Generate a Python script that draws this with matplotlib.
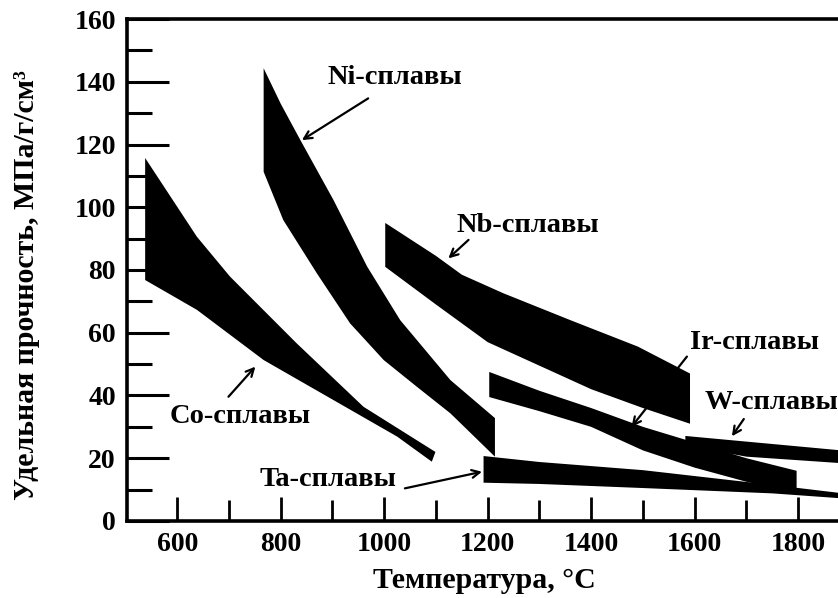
import numpy as np
import matplotlib
matplotlib.use("Agg")
import matplotlib.pyplot as plt

plt.rcParams['font.family'] = ['Liberation Serif', 'DejaVu Serif']
plt.rcParams['font.weight'] = 'bold'

# --- data: band outlines (temperature, specific strength) ---
co_top_x = [538, 638, 702, 831, 960, 1099]
co_top_y = [115.7, 90.6, 77.9, 56.6, 36.4, 22.0]
co_bot_x = [538, 638, 767, 896, 1025, 1092]
co_bot_y = [76.8, 67.3, 51.3, 39.1, 26.9, 18.9]

ni_top_x = [767, 800, 838, 902, 967, 1031, 1128, 1214]
ni_top_y = [144.3, 133.0, 121.4, 102.3, 81.1, 64.0, 44.9, 32.8]
ni_bot_x = [767, 785, 805, 870, 934, 999, 1063, 1128, 1214]
ni_bot_y = [111.3, 104.0, 95.9, 78.9, 63.0, 51.3, 42.8, 34.3, 20.5]

nb_top_x = [1002, 1100, 1150, 1230, 1360, 1490, 1591]
nb_top_y = [95.0, 84.5, 78.5, 72.6, 64.0, 55.6, 47.0]
nb_bot_x = [1002, 1100, 1200, 1300, 1400, 1500, 1591]
nb_bot_y = [81.0, 69.0, 57.0, 49.5, 42.0, 36.0, 31.0]

ir_top_x = [1203, 1300, 1400, 1500, 1600, 1700, 1797]
ir_top_y = [47.5, 41.5, 36.0, 30.0, 25.0, 20.0, 16.0]
ir_bot_x = [1203, 1300, 1400, 1500, 1600, 1700, 1752, 1797]
ir_bot_y = [39.5, 35.0, 30.0, 22.5, 17.0, 12.5, 10.5, 10.0]

w_top_x = [1582, 1877]
w_top_y = [27.1, 22.6]
w_bot_x = [1582, 1700, 1877]
w_bot_y = [24.0, 20.5, 18.5]

ta_top_x = [1192, 1300, 1500, 1750, 1877]
ta_top_y = [20.7, 18.8, 16.2, 11.5, 9.0]
ta_bot_x = [1192, 1300, 1500, 1750, 1877]
ta_bot_y = [12.2, 11.8, 10.5, 8.8, 7.3]

# labels: text, x, y, ha
label_text = ['Ni-сплавы', 'Nb-сплавы', 'Ir-сплавы', 'W-сплавы', 'Co-сплавы', 'Ta-сплавы']
label_x = [1021, 1277, 1715, 1620, 722, 892]
label_y = [141.4, 94.3, 57.0, 37.8, 33.2, 13.1]
label_ha = ['center', 'center', 'center', 'left', 'center', 'center']

# arrows: tail -> head
arrow_tail = [(969, 134.7), (1163, 89.6), (1585, 52.4), (1695, 32.5), (699, 39.6), (1040, 10.4)]
arrow_head = [(841, 121.4), (1124, 83.7), (1478, 30.0), (1672, 27.0), (751, 49.2), (1189, 15.7)]

bands = [
    (co_top_x, co_top_y, co_bot_x, co_bot_y),
    (ni_top_x, ni_top_y, ni_bot_x, ni_bot_y),
    (nb_top_x, nb_top_y, nb_bot_x, nb_bot_y),
    (ir_top_x, ir_top_y, ir_bot_x, ir_bot_y),
    (w_top_x, w_top_y, w_bot_x, w_bot_y),
    (ta_top_x, ta_top_y, ta_bot_x, ta_bot_y),
]

fig = plt.figure(figsize=(8.38, 5.98), dpi=100)
ax = fig.add_axes([0.1516, 0.1288, 0.8484, 0.8394])

for tx, ty, bx, by in bands:
    xs = list(tx) + list(bx[::-1])
    ys = list(ty) + list(by[::-1])
    ax.fill(xs, ys, color='black', lw=0)

for txt, x, y, ha in zip(label_text, label_x, label_y, label_ha):
    ax.text(x, y, txt, ha=ha, va='center', fontsize=20.5, fontweight='bold')

for tail, head in zip(arrow_tail, arrow_head):
    ax.annotate('', xy=head, xytext=tail,
                arrowprops=dict(arrowstyle='->', lw=1.6, color='black',
                                mutation_scale=14, shrinkA=0, shrinkB=0))

ax.set_xlim(503, 1877)
ax.set_ylim(0, 160)
ax.set_xticks([600, 800, 1000, 1200, 1400, 1600, 1800])
ax.set_xticks(np.arange(700, 1801, 200), minor=True)
ax.set_yticks(np.arange(0, 161, 20))
ax.set_yticks(np.arange(10, 160, 20), minor=True)

ax.spines['right'].set_visible(False)
for s in ['left', 'bottom', 'top']:
    ax.spines[s].set_linewidth(2.6)

ax.tick_params(axis='y', which='major', direction='in', length=30, width=2.2,
               labelsize=20, pad=8)
ax.tick_params(axis='y', which='minor', direction='in', length=18, width=2.2)
ax.tick_params(axis='x', which='major', direction='in', length=17, width=2.0,
               labelsize=20, pad=8)
ax.tick_params(axis='x', which='minor', direction='in', length=15, width=2.0)
for lab in ax.get_xticklabels() + ax.get_yticklabels():
    lab.set_fontweight('bold')

ax.set_xlabel('Температура, °C', fontsize=21.5, fontweight='bold')
ax.xaxis.set_label_coords(0.502, -0.092)
ax.set_ylabel('Удельная прочность, МПа/г/см³', fontsize=21.5, fontweight='bold')
ax.yaxis.set_label_coords(-0.122, 0.47)

fig.savefig('out.png', dpi=100)
